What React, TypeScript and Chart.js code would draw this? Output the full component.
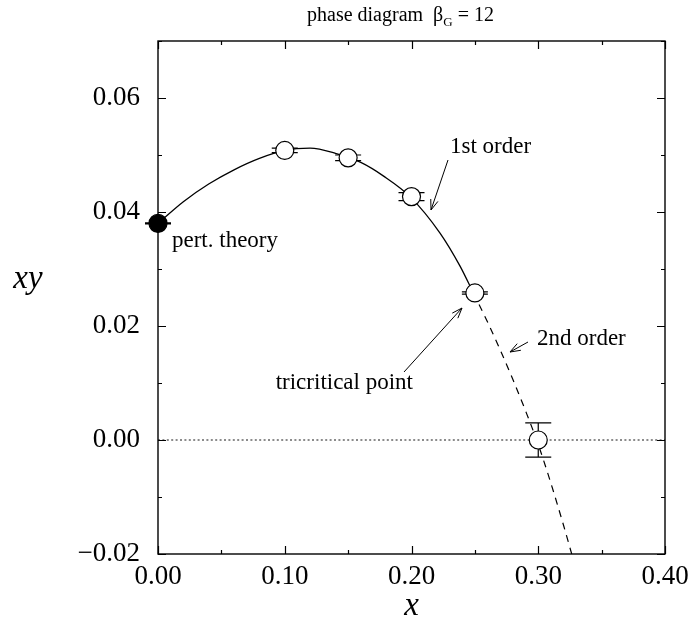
import React, { useEffect, useRef } from "react";
import { Chart, registerables } from "chart.js";

Chart.register(...registerables);

// ---- data ----
const pointX = [0.1, 0.15, 0.2, 0.25, 0.3];
const pointY = [0.0508, 0.0495, 0.0427, 0.0258, 0.0];
const pointErr = [0.0004, 0.0005, 0.0007, 0.0002, 0.003];

const pertX = [0.0];
const pertY = [0.038];
const pertErr = [0.0001];

const firstOrderX = [0.0, 0.02, 0.04, 0.06, 0.08, 0.1, 0.12, 0.14, 0.16, 0.178, 0.1988, 0.2225, 0.2383, 0.2488];
const firstOrderY = [0.038, 0.0418, 0.0449, 0.0474, 0.0494, 0.0508, 0.0512, 0.0503, 0.0487, 0.0463, 0.0427, 0.0363, 0.0305, 0.0258];

const secondOrderX = [0.2488, 0.26, 0.27, 0.28, 0.29, 0.3, 0.31, 0.32, 0.3264];
const secondOrderY = [0.0258, 0.0207, 0.0158, 0.0106, 0.0051, -0.0008, -0.0076, -0.015, -0.02];

const zeroX = [0.0, 0.4];
const zeroY = [0.0, 0.0];

const xTicks = [0.0, 0.1, 0.2, 0.3, 0.4];
const yTicks = [-0.02, 0.0, 0.02, 0.04, 0.06];

const SERIF = '"Liberation Serif", "Times New Roman", serif';

function pairs(xs: number[], ys: number[]) {
  return xs.map((x, i) => ({ x, y: ys[i] }));
}

function drawArrow(ctx: CanvasRenderingContext2D, x1: number, y1: number, x2: number, y2: number) {
  ctx.beginPath();
  ctx.moveTo(x1, y1);
  ctx.lineTo(x2, y2);
  const a = Math.atan2(y2 - y1, x2 - x1);
  const L = 11;
  const w = 0.35;
  ctx.moveTo(x2 - L * Math.cos(a - w), y2 - L * Math.sin(a - w));
  ctx.lineTo(x2, y2);
  ctx.lineTo(x2 - L * Math.cos(a + w), y2 - L * Math.sin(a + w));
  ctx.stroke();
}

const decorPlugin = {
  id: "decor",
  beforeDatasetsDraw(chart: any) {
    const ctx = chart.ctx as CanvasRenderingContext2D;
    const xs = chart.scales.x;
    const ys = chart.scales.y;
    ctx.save();
    ctx.strokeStyle = "#000";
    ctx.lineWidth = 1.2;
    const cap = 13;
    const drawErr = (X: number[], Y: number[], E: number[]) => {
      X.forEach((xv, i) => {
        const px = xs.getPixelForValue(xv);
        const top = ys.getPixelForValue(Y[i] + E[i]);
        const bot = ys.getPixelForValue(Y[i] - E[i]);
        ctx.beginPath();
        ctx.moveTo(px, top);
        ctx.lineTo(px, bot);
        ctx.moveTo(px - cap, top);
        ctx.lineTo(px + cap, top);
        ctx.moveTo(px - cap, bot);
        ctx.lineTo(px + cap, bot);
        ctx.stroke();
      });
    };
    drawErr(pointX, pointY, pointErr);
    drawErr(pertX, pertY, pertErr);
    ctx.restore();
  },
  afterDraw(chart: any) {
    const ctx = chart.ctx as CanvasRenderingContext2D;
    const { left, right, top, bottom } = chart.chartArea;
    const xs = chart.scales.x;
    const ys = chart.scales.y;
    ctx.save();
    ctx.strokeStyle = "#000";
    ctx.lineWidth = 1.4;
    ctx.strokeRect(left, top, right - left, bottom - top);

    ctx.lineWidth = 1.2;
    ctx.beginPath();
    for (let k = 0; k <= 8; k++) {
      const v = k * 0.05;
      const px = Math.round(xs.getPixelForValue(v)) + 0.5;
      const len = k % 2 === 0 ? 8 : 4;
      ctx.moveTo(px, bottom);
      ctx.lineTo(px, bottom - len);
      ctx.moveTo(px, top);
      ctx.lineTo(px, top + len);
    }
    for (let k = -2; k <= 7; k++) {
      const v = k * 0.01;
      const py = Math.round(ys.getPixelForValue(v)) + 0.5;
      const len = k % 2 === 0 ? 8 : 4;
      ctx.moveTo(left, py);
      ctx.lineTo(left + len, py);
      ctx.moveTo(right, py);
      ctx.lineTo(right - len, py);
    }
    ctx.stroke();

    ctx.fillStyle = "#000";
    ctx.textBaseline = "alphabetic";
    ctx.textAlign = "left";
    ctx.font = `20px ${SERIF}`;
    let tx = 307;
    const tb = 21;
    const t1 = "phase diagram  \u03b2";
    ctx.fillText(t1, tx, tb);
    tx += ctx.measureText(t1).width;
    ctx.font = `13px ${SERIF}`;
    ctx.fillText("G", tx, tb + 5);
    tx += ctx.measureText("G").width;
    ctx.font = `20px ${SERIF}`;
    ctx.fillText(" = 12", tx, tb);

    ctx.font = `italic 33px ${SERIF}`;
    ctx.textAlign = "center";
    ctx.fillText("x", (left + right) / 2, 615);
    ctx.fillText("xy", 28, 288);

    ctx.font = `23px ${SERIF}`;
    ctx.textAlign = "left";
    ctx.fillText("1st order", 450, 153);
    ctx.fillText("pert. theory", 172, 247);
    ctx.fillText("2nd order", 537, 345);
    ctx.textAlign = "right";
    ctx.fillText("tricritical point", 413, 389);

    ctx.lineWidth = 1;
    drawArrow(ctx, 448, 160, 431, 210);
    drawArrow(ctx, 528, 342, 510, 352);
    drawArrow(ctx, 404, 372, 462, 308);
    ctx.restore();
  },
};

export default function App() {
  const ref = useRef<HTMLCanvasElement | null>(null);
  useEffect(() => {
    if (!ref.current) return;
    const chart = new Chart(ref.current, {
      type: "scatter",
      data: {
        datasets: [
          {
            label: "pert",
            data: pairs(pertX, pertY),
            pointRadius: 9,
            pointBackgroundColor: "#000",
            pointBorderColor: "#000",
            pointBorderWidth: 1.2,
            showLine: false,
            clip: false as any,
          },
          {
            label: "points",
            data: pairs(pointX, pointY),
            pointRadius: 9,
            pointBackgroundColor: "#fff",
            pointBorderColor: "#000",
            pointBorderWidth: 1.2,
            showLine: false,
            clip: false as any,
          },
          {
            label: "first",
            data: pairs(firstOrderX, firstOrderY),
            showLine: true,
            pointRadius: 0,
            borderColor: "#000",
            borderWidth: 1.3,
            cubicInterpolationMode: "monotone",
          },
          {
            label: "second",
            data: pairs(secondOrderX, secondOrderY),
            showLine: true,
            pointRadius: 0,
            borderColor: "#000",
            borderWidth: 1.2,
            borderDash: [7, 6],
            cubicInterpolationMode: "monotone",
          },
          {
            label: "zero",
            data: pairs(zeroX, zeroY),
            showLine: true,
            pointRadius: 0,
            borderColor: "#666",
            borderWidth: 1.5,
            borderDash: [2, 2.4],
          },
        ],
      },
      options: {
        animation: false,
        responsive: false,
        devicePixelRatio: 1,
        layout: { padding: { left: 0, top: 41, right: 24, bottom: 0 } },
        plugins: { legend: { display: false }, tooltip: { enabled: false }, title: { display: false } },
        scales: {
          x: {
            type: "linear",
            min: 0,
            max: 0.4,
            grid: { display: false, drawTicks: false },
            border: { display: false },
            afterBuildTicks: (s: any) => {
              s.ticks = xTicks.map((v) => ({ value: v }));
            },
            ticks: {
              padding: 7,
              color: "#000",
              font: { family: SERIF, size: 27 },
              maxRotation: 0,
              autoSkip: false,
              callback: (v: any) => Number(v).toFixed(2),
            },
            afterFit: (s: any) => {
              s.height = 71;
              s.paddingLeft = 0;
              s.paddingRight = 0;
            },
          },
          y: {
            type: "linear",
            min: -0.02,
            max: 0.07,
            grid: { display: false, drawTicks: false },
            border: { display: false },
            afterBuildTicks: (s: any) => {
              s.ticks = yTicks.map((v) => ({ value: v }));
            },
            ticks: {
              padding: 18,
              color: "#000",
              font: { family: SERIF, size: 27 },
              autoSkip: false,
              callback: (v: any) => {
                const n = Number(v);
                const s = Math.abs(n).toFixed(2);
                return n < -1e-9 ? "\u2212" + s : s;
              },
            },
            afterFit: (s: any) => {
              s.width = 158;
              s.paddingTop = 0;
              s.paddingBottom = 0;
            },
          },
        },
      },
      plugins: [decorPlugin],
    });
    return () => chart.destroy();
  }, []);
  return (
    <div style={{ position: "fixed", left: 0, top: 0, width: 689, height: 625, background: "#fff" }}>
      <canvas ref={ref} width={689} height={625} style={{ display: "block" }} />
    </div>
  );
}
